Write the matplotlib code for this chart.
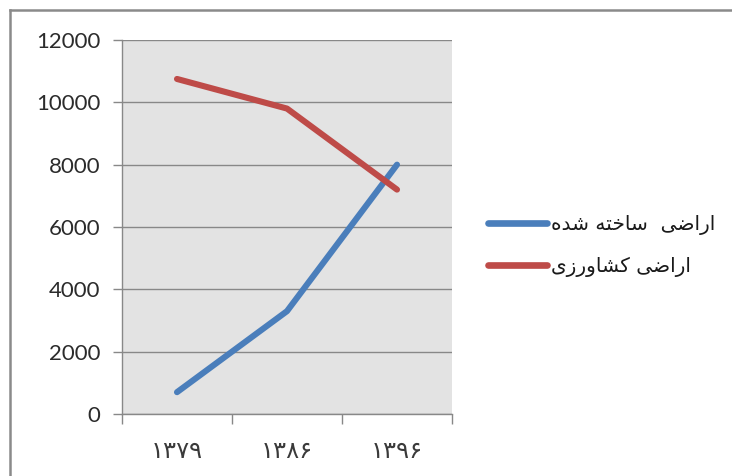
import matplotlib
matplotlib.use("Agg")
import matplotlib.pyplot as plt
from matplotlib.lines import Line2D

# ---- dados ----
anos = ["۱۳۷۹", "۱۳۸۶", "۱۳۹۶"]
ساخته = [700, 3300, 8000]
کشاورزی = [10750, 9800, 7200]
rotulos = ["اراضی  ساخته شده", "اراضی کشاورزی"]
cores = ["#4a7ebb", "#be4b48"]
yticks = [0, 2000, 4000, 6000, 8000, 10000, 12000]

# formas de apresentacao (isolada, final, inicial, medial) -- matplotlib nao faz shaping
_F = {
    "\u0627": ("\uFE8D", "\uFE8E", None, None),
    "\u0631": ("\uFEAD", "\uFEAE", None, None),
    "\u0632": ("\uFEAF", "\uFEB0", None, None),
    "\u062F": ("\uFEA9", "\uFEAA", None, None),
    "\u0648": ("\uFEED", "\uFEEE", None, None),
    "\u0636": ("\uFEBD", "\uFEBE", "\uFEBF", "\uFEC0"),
    "\u06CC": ("\uFEEF", "\uFEF0", "\uFEF3", "\uFEF4"),
    "\u064A": ("\uFEEF", "\uFEF0", "\uFEF3", "\uFEF4"),
    "\u0633": ("\uFEB1", "\uFEB2", "\uFEB3", "\uFEB4"),
    "\u062E": ("\uFEA5", "\uFEA6", "\uFEA7", "\uFEA8"),
    "\u062A": ("\uFE95", "\uFE96", "\uFE97", "\uFE98"),
    "\u0647": ("\uFEE9", "\uFEEA", "\uFEEB", "\uFEEC"),
    "\u0634": ("\uFEB5", "\uFEB6", "\uFEB7", "\uFEB8"),
    "\u06A9": ("\uFB8E", "\uFB8F", "\uFB90", "\uFB91"),
    "\u0643": ("\uFB8E", "\uFB8F", "\uFB90", "\uFB91"),
}


def rtl(s):
    out = []
    for i, c in enumerate(s):
        if c not in _F:
            out.append(c)
            continue
        prev = s[i - 1] if i > 0 else None
        nxt = s[i + 1] if i + 1 < len(s) else None
        jp = prev in _F and _F[prev][2] is not None
        jn = _F[c][2] is not None and nxt in _F
        if jp and jn:
            out.append(_F[c][3])
        elif jp:
            out.append(_F[c][1])
        elif jn:
            out.append(_F[c][2])
        else:
            out.append(_F[c][0])
    return "".join(reversed(out))


W, H = 732, 476
fig = plt.figure(figsize=(W / 100, H / 100), dpi=100)
ax = fig.add_axes([122 / W, 1 - 414 / H, 330 / W, 374 / H])
ax.set_facecolor("#e3e3e3")

x = range(len(anos))
for serie, cor in zip([ساخته, کشاورزی], cores):
    ax.plot(x, serie, color=cor, lw=4.4, solid_capstyle="round",
            solid_joinstyle="round", zorder=3)

ax.set_xlim(-0.5, len(anos) - 0.5)
ax.set_ylim(0, 12000)
ax.set_yticks(yticks)
ax.set_yticklabels([str(v) for v in yticks], fontfamily="Lato", fontsize=16,
                   color="#2b2b2b")
ax.yaxis.grid(True, color="#888888", lw=1)
ax.set_axisbelow(True)

ax.set_xticks(list(x))
ax.set_xticklabels(anos, fontfamily="DejaVu Sans", fontsize=17.5, color="#3a3a3a")
ax.set_xticks([i - 0.5 for i in range(len(anos) + 1)], minor=True)
ax.tick_params(axis="x", which="major", length=0, pad=18)
ax.tick_params(axis="x", which="minor", length=7, color="#888888", width=1)
ax.tick_params(axis="y", length=6.5, color="#888888", width=1, pad=9)

for s in ["top", "right"]:
    ax.spines[s].set_visible(False)
for s in ["left", "bottom"]:
    ax.spines[s].set_color("#888888")
    ax.spines[s].set_linewidth(1)

handles = [Line2D([], [], color=c, lw=4.8, solid_capstyle="round") for c in cores]
leg = fig.legend(handles, [rtl(r) for r in rotulos], loc="center left",
                 bbox_to_anchor=(480 / W, 1 - 246 / H), frameon=False,
                 prop={"family": "DejaVu Sans", "size": 14.5},
                 handlelength=2.95, handletextpad=0.2, labelspacing=1.12,
                 borderaxespad=0)
for t in leg.get_texts():
    t.set_color("#1a1a1a")

# moldura (so topo e esquerda visiveis na imagem)
fig.add_artist(Line2D([10 / W, 10 / W], [0, 1 - 10 / H], color="#8a8a8a", lw=1.8))
fig.add_artist(Line2D([10 / W, 1], [1 - 10 / H, 1 - 10 / H], color="#8a8a8a", lw=1.8))

fig.savefig("out.png", dpi=100)
